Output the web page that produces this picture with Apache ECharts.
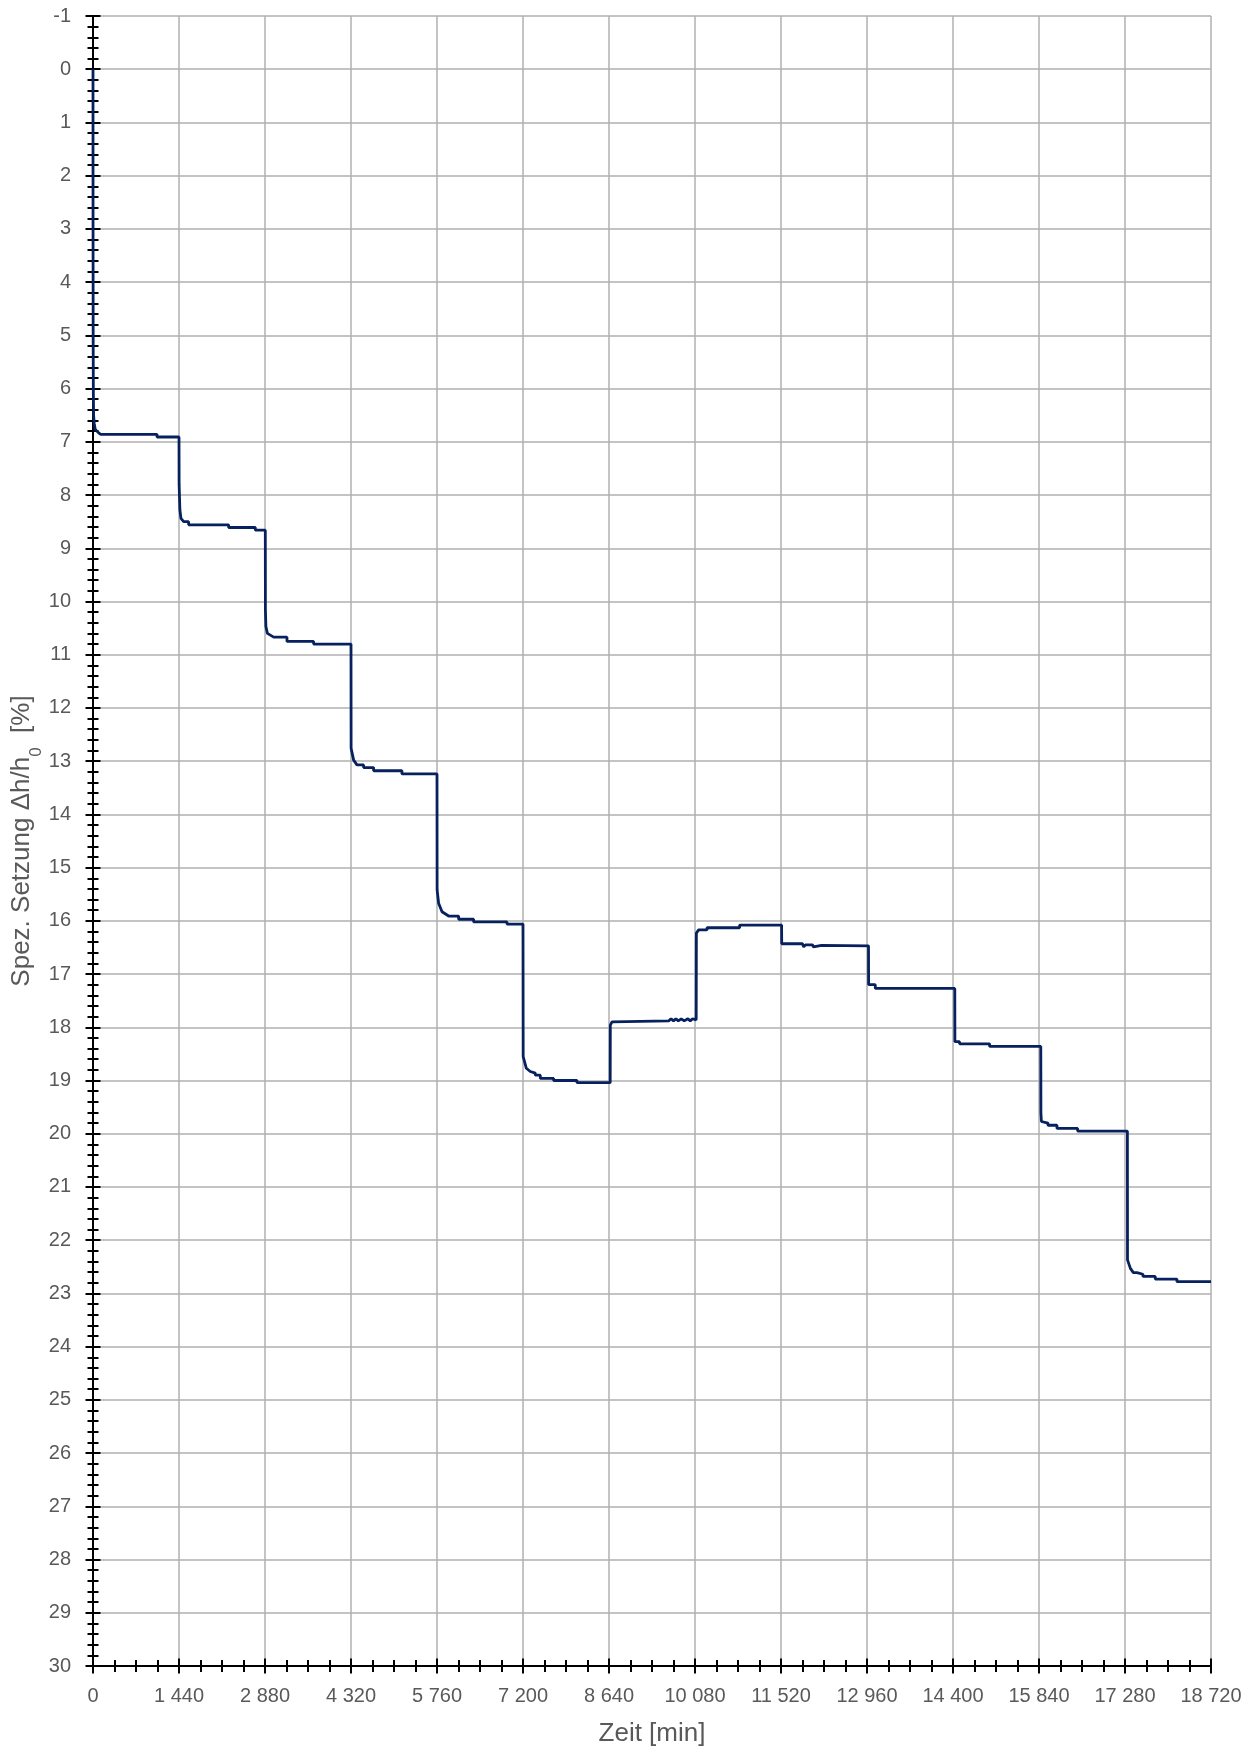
<!DOCTYPE html>
<html>
<head>
<meta charset="utf-8">
<script src="https://cdn.jsdelivr.net/npm/echarts@6/dist/echarts.min.js"></script>
<style>
  html, body { margin: 0; padding: 0; background: #ffffff; }
  #chart { width: 1256px; height: 1753px; }
</style>
</head>
<body>
<div id="chart"></div>
<script>
// Zeit [min]
var zeit = [
  0, 1, 3, 6, 10, 20, 38, 94, 130, 1072, 1072, 1090, 1110, 1130, 1150, 1440,
  1442, 1455, 1473, 1518, 1601, 1601, 2271, 2271, 2718, 2718, 2885,
  2887, 2895, 2920, 3025, 3248, 3248, 3694, 3694, 4320,
  4322, 4364, 4420, 4531, 4531, 4699, 4699, 5173, 5173, 5760,
  5762, 5787, 5844, 5955, 6122, 6122, 6373, 6373, 6932, 6932, 7200,
  7203, 7256, 7322, 7406, 7406, 7490, 7490, 7713, 7713, 8104, 8104, 8660,
  8662, 8690, 8717, 9640, 9680, 9720, 9760, 9800, 9850, 9900, 9960, 10000, 10040, 10100,
  10103, 10141, 10281, 10281, 10827, 10827, 11530,
  11532, 11880, 11900, 11930, 12050, 12060, 12070, 12200, 12210, 12220, 12985,
  12987, 13099, 13099, 14430,
  14432, 14510, 14510, 15013, 15013, 15870,
  15872, 15880, 15990, 15990, 16141, 16141, 16487, 16487, 17320,
  17322, 17370, 17420, 17480, 17480, 17581, 17581, 17787, 17787, 18150, 18150, 18720
];
// Spez. Setzung [%]
var setzung = [
  0, 3.0, 5.2, 6.1, 6.5, 6.65, 6.77, 6.83, 6.86, 6.86, 6.91, 6.88, 6.91, 6.88, 6.91, 6.91,
  7.8, 8.28, 8.44, 8.50, 8.50, 8.56, 8.56, 8.61, 8.61, 8.66, 8.66,
  10.16, 10.47, 10.6, 10.67, 10.67, 10.75, 10.75, 10.80, 10.80,
  12.76, 12.98, 13.07, 13.07, 13.12, 13.12, 13.18, 13.18, 13.24, 13.24,
  15.42, 15.67, 15.83, 15.91, 15.91, 15.97, 15.97, 16.02, 16.02, 16.06, 16.06,
  18.55, 18.77, 18.83, 18.86, 18.90, 18.90, 18.96, 18.96, 19.00, 19.00, 19.04, 19.04,
  17.96, 17.90, 17.88, 17.88, 17.84, 17.88, 17.84, 17.88, 17.84, 17.88, 17.84, 17.88, 17.84, 17.86,
  16.23, 16.17, 16.17, 16.13, 16.13, 16.08, 16.08,
  16.43, 16.43, 16.49, 16.45, 16.45, 16.49, 16.46, 16.46, 16.49, 16.47, 16.47,
  17.20, 17.20, 17.27, 17.27,
  18.27, 18.27, 18.31, 18.31, 18.36, 18.36,
  19.61, 19.77, 19.80, 19.84, 19.84, 19.90, 19.90, 19.95, 19.95,
  22.37, 22.53, 22.61, 22.61, 22.64, 22.64, 22.68, 22.68, 22.73, 22.73, 22.78, 22.78
];
var xTickLabels = ['0', '1 440', '2 880', '4 320', '5 760', '7 200', '8 640', '10 080',
  '11 520', '12 960', '14 400', '15 840', '17 280', '18 720'];
var xTickStep = 1440;
var yMin = -1, yMax = 30;

var data = zeit.map(function (t, i) { return [t, setzung[i]]; });

var labelColor = '#595959';
var fontFam = '"Liberation Sans", Arial, sans-serif';

function baseX(inside) {
  return {
    type: 'value', position: 'bottom', min: 0, max: 18720, interval: xTickStep,
    nameMoveOverlap: false,
    axisLine: { show: !inside, onZero: false, lineStyle: { color: '#000', width: 2 } },
    axisTick: { show: true, inside: inside, length: 7.5, lineStyle: { color: '#000', width: 2 } },
    minorTick: { show: true, splitNumber: 4, length: 6, lineStyle: { color: '#000', width: 2 } },
    splitLine: { show: !inside, lineStyle: { color: '#b0b0b0', width: 1.5 } },
    axisLabel: {
      show: !inside, margin: 20, color: labelColor, fontSize: 20, fontFamily: fontFam,
      formatter: function (v) { return xTickLabels[Math.round(v / xTickStep)]; }
    }
  };
}
function baseY(inside) {
  return {
    type: 'value', position: 'left', inverse: true, min: yMin, max: yMax, interval: 1,
    nameMoveOverlap: false,
    axisLine: { show: !inside, onZero: false, lineStyle: { color: '#000', width: 2 } },
    axisTick: { show: true, inside: inside, length: 7.5, lineStyle: { color: '#000', width: 2 } },
    minorTick: { show: true, splitNumber: 5, length: 5.5, lineStyle: { color: '#000', width: 2 } },
    splitLine: { show: !inside, lineStyle: { color: '#b0b0b0', width: 1.5 } },
    axisLabel: { show: !inside, margin: 22, color: labelColor, fontSize: 20, fontFamily: fontFam }
  };
}

var x0 = baseX(false);
x0.name = 'Zeit [min]';
x0.nameLocation = 'middle';
x0.nameGap = 55;
x0.nameTextStyle = { color: labelColor, fontSize: 26, fontFamily: fontFam };
var x1 = baseX(true);

var y0 = baseY(false);
y0.name = 'Spez. Setzung Δh/h{sub|0}  [%]';
y0.nameLocation = 'middle';
y0.nameGap = 56;
y0.nameRotate = 90;
y0.nameTextStyle = {
  color: labelColor, fontSize: 26, fontFamily: fontFam, lineHeight: 30,
  rich: { sub: { fontSize: 17, fontFamily: fontFam, color: labelColor, lineHeight: 30, verticalAlign: 'bottom', padding: [0, 0, -8, 0] } }
};
var y1 = baseY(true);

var chart = echarts.init(document.getElementById('chart'), null, { renderer: 'canvas' });
chart.setOption({
  animation: false,
  backgroundColor: '#ffffff',
  grid: { left: 93, right: 45, top: 16, bottom: 87, containLabel: false, outerBoundsMode: 'none' },
  xAxis: [x0, x1],
  yAxis: [y0, y1],
  series: [{
    type: 'line',
    xAxisIndex: 0, yAxisIndex: 0,
    data: data,
    showSymbol: false,
    symbol: 'none',
    lineStyle: { color: '#06215e', width: 2.8 },
    z: 5
  }]
});
</script>
</body>
</html>
